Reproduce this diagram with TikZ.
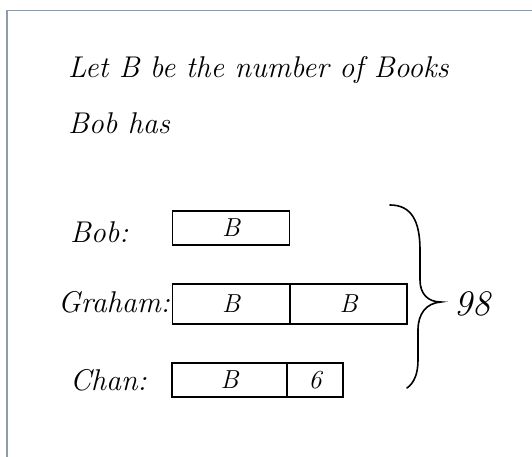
\documentclass[tikz,border=0pt]{standalone}
\usepackage{fontspec}
\usepackage{tikz}
\definecolor{framecol}{HTML}{8C9CAC}
\tikzset{
  hand/.style={font=\itshape\fontsize{30}{34}\selectfont, inner sep=0pt, anchor=west},
  barbox/.style={draw, line width=1.2pt, minimum height=34pt, inner sep=0pt, font=\itshape\fontsize{26}{28}\selectfont},
}
\begin{document}
\begin{tikzpicture}[x=1pt,y=-1pt]
\useasboundingbox (0,0) rectangle (532,457);
\draw[framecol, line width=1.6pt] (7,457) -- (7,10.5) -- (532,10.5);
\node[hand] (t1) at (68,70) {Let B be the number of Books};
\node[hand] (t2) at (68,123) {Bob has};
\node[hand] (lbob) at (70,232) {Bob:};
\node[hand] (lgra) at (58,302) {Graham:};
\node[hand] (lchan) at (70,380) {Chan:};
\node[barbox, minimum width=117pt] (b1) at (231,228) {B};
\node[barbox, minimum width=117pt, minimum height=40pt] (g1) at (231,304) {B};
\node[barbox, minimum width=117pt, minimum height=40pt] (g2) at (348.5,304) {B};
\node[barbox, minimum width=115pt] (c1) at (229.5,380) {B};
\node[barbox, minimum width=56pt] (c2) at (315,380) {6};
\coordinate (btop) at (390,205);
\coordinate (btip) at (441,302);
\coordinate (bbot) at (407,388);
\draw[line width=1.6pt, line cap=round] (btop) .. controls (412,205) and (420,222) .. (420,250) -- (420,280)
  .. controls (420,294) and (428,302) .. (btip)
  .. controls (426,303) and (418,314) .. (418,330) -- (418,360)
  .. controls (418,374) and (414,383) .. (bbot);
\node[hand, font=\itshape\fontsize{36}{40}\selectfont] (n98) at (454,304) {98};
\end{tikzpicture}
\end{document}
